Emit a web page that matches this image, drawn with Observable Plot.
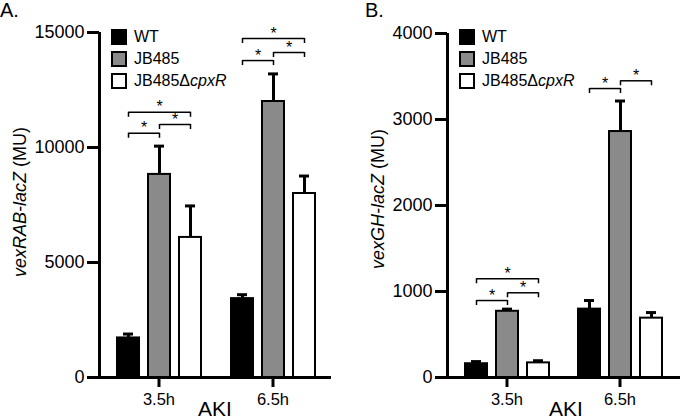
<!DOCTYPE html>
<html>
<head>
<meta charset="utf-8">
<script src="https://cdn.jsdelivr.net/npm/d3@7"></script>
<script src="https://cdn.jsdelivr.net/npm/@observablehq/plot@0.6"></script>
<style>
  html, body { margin: 0; padding: 0; background: #fff; }
  body { font-family: "Liberation Sans", Arial, Helvetica, sans-serif; color: #000; }
  #fig { position: relative; width: 680px; height: 420px; overflow: hidden; background: #fff; }
  .panel { position: absolute; top: 0; width: 340px; height: 420px; }
  .panel svg { position: absolute; left: 0; top: 0; }
  .plabel { position: absolute; top: 0; font-size: 20px; line-height: 20px; }
  .ylab { position: absolute; font-size: 18px; line-height: 18px; white-space: nowrap;
          transform: translate(-50%, -50%) rotate(-90deg); }
  .xlab { position: absolute; font-size: 21px; line-height: 21px; white-space: nowrap;
          transform: translateX(-50%); }
  .legend { position: absolute; top: 29px; }
  .legrow { display: flex; align-items: center; height: 16px; margin-bottom: 6px; font-size: 16px; white-space: nowrap; }
  .sw { width: 16px; height: 16px; box-sizing: border-box; border: 2px solid #000; margin-right: 7px; }
</style>
</head>
<body>
<div id="fig"></div>
<script>
// ---------- data ----------
const times = ["3.5h", "6.5h"];
const strains = ["WT", "JB485", "JB485ΔcpxR"];
const fills = ["#000000", "#8a8a8a", "#ffffff"];
const xTitle = "AKI";

// Panel A: vexRAB-lacZ (MU)
const vexRAB_WT = [1720, 3430];
const vexRAB_WT_sd = [170, 170];
const vexRAB_JB485 = [8830, 12000];
const vexRAB_JB485_sd = [1230, 1200];
const vexRAB_dcpxR = [6090, 8000];
const vexRAB_dcpxR_sd = [1370, 760];
const vexRAB_ticks = [0, 5000, 10000, 15000];
const vexRAB_sigTime = ["3.5h", "3.5h", "3.5h", "6.5h", "6.5h", "6.5h"];
const vexRAB_sigFrom = ["WT", "WT", "JB485", "WT", "WT", "JB485"];
const vexRAB_sigTo = ["JB485ΔcpxR", "JB485", "JB485ΔcpxR", "JB485ΔcpxR", "JB485", "JB485ΔcpxR"];
const vexRAB_sigLevel = [11530, 10620, 11000, 14740, 13780, 14130];

// Panel B: vexGH-lacZ (MU)
const vexGH_WT = [160, 795];
const vexGH_WT_sd = [25, 100];
const vexGH_JB485 = [770, 2860];
const vexGH_JB485_sd = [25, 355];
const vexGH_dcpxR = [170, 690];
const vexGH_dcpxR_sd = [25, 65];
const vexGH_ticks = [0, 1000, 2000, 3000, 4000];
const vexGH_sigTime = ["3.5h", "3.5h", "3.5h", "6.5h", "6.5h"];
const vexGH_sigFrom = ["WT", "WT", "JB485", "WT", "JB485"];
const vexGH_sigTo = ["JB485ΔcpxR", "JB485", "JB485ΔcpxR", "JB485", "JB485ΔcpxR"];
const vexGH_sigLevel = [1148, 895, 985, 3360, 3450];

// ---------- drawing ----------
const FONT = '"Liberation Sans", Arial, Helvetica, sans-serif';
const fig = document.getElementById("fig");

function legendHTML(s) {
  const k = s.indexOf("Δ");
  return k < 0 ? s : s.slice(0, k + 1) + "<i>" + s.slice(k + 1) + "</i>";
}

function makePanel(cfg) {
  const panel = document.createElement("div");
  panel.className = "panel";
  panel.style.left = cfg.left + "px";
  fig.appendChild(panel);

  const series = [cfg.wt, cfg.jb, cfg.dc];
  const sds = [cfg.wtSd, cfg.jbSd, cfg.dcSd];
  const rows = [];
  times.forEach((t, i) => strains.forEach((s, j) =>
    rows.push({time: t, strain: s, value: series[j][i], sd: sds[j][i]})));
  const sig = cfg.sigTime.map((t, i) => {
    const a = strains.indexOf(cfg.sigFrom[i]), b = strains.indexOf(cfg.sigTo[i]);
    return {time: t, from: cfg.sigFrom[i], to: cfg.sigTo[i], level: cfg.sigLevel[i],
            span: b - a, mid: strains[(a + b) / 2]};
  });
  const ymax = cfg.ticks[cfg.ticks.length - 1];
  const common = {
    width: 340, height: 420,
    marginTop: cfg.marginTop, marginBottom: 43,
    marginLeft: cfg.marginLeft, marginRight: cfg.marginRight,
    style: {background: "transparent", fontFamily: FONT, fontSize: "16px", color: "#000", overflow: "visible"}
  };

  const bars = Plot.plot({
    ...common,
    fx: {domain: times, paddingInner: cfg.pi, paddingOuter: cfg.po, label: null, axis: null},
    x: {domain: strains, paddingInner: 0.3, paddingOuter: 0.3, axis: null},
    y: {domain: [0, ymax], axis: null},
    color: {domain: strains, range: fills},
    marks: [
      Plot.ruleX(rows, {fx: "time", x: "strain", y1: "value", y2: d => d.value + d.sd, stroke: "#000", strokeWidth: 3}),
      Plot.tickY(rows, {fx: "time", x: "strain", y: d => d.value + d.sd, stroke: "#000", strokeWidth: 3, insetLeft: 6, insetRight: 6}),
      Plot.barY(rows, {fx: "time", x: "strain", y: "value", fill: "strain", stroke: "#000", strokeWidth: 2}),
      Plot.link(sig, {fx: "time", x1: "from", x2: "to", y1: "level", y2: "level", stroke: "#000", strokeWidth: 1.5}),
      Plot.ruleX(sig, {fx: "time", x: "from", y1: "level", y2: "level", insetTop: 5, stroke: "#000", strokeWidth: 1.5}),
      Plot.ruleX(sig, {fx: "time", x: "to", y1: "level", y2: "level", insetTop: 5, stroke: "#000", strokeWidth: 1.5}),
      Plot.text(sig.filter(d => d.span === 2), {fx: "time", x: "mid", y: "level", text: () => "*", dy: -5, fontSize: 16}),
      Plot.text(sig.filter(d => d.span === 1), {fx: "time", x: "from", y: "level", text: () => "*", dy: -5, dx: 15.7, fontSize: 16}),
      Plot.axisFx({anchor: "bottom", tickSize: 10, tickPadding: 6, strokeWidth: 3, fontSize: 16.5, label: null})
    ]
  });
  panel.appendChild(bars);

  const axes = Plot.plot({
    ...common,
    x: {domain: [0, 1], axis: null},
    y: {domain: [0, ymax], axis: null},
    marks: [
      Plot.ruleY([0], {insetLeft: -cfg.xLineExtend, stroke: "#000", strokeWidth: 3}),
      Plot.ruleX([0], {y1: 0, y2: ymax, stroke: "#000", strokeWidth: 3}),
      Plot.axisY(cfg.ticks, {tickSize: 12, tickPadding: 3, strokeWidth: 3, fontSize: 18, label: null, tickFormat: d => String(d)})
    ]
  });
  panel.appendChild(axes);

  const pl = document.createElement("div");
  pl.className = "plabel";
  pl.style.left = cfg.labelX + "px";
  pl.textContent = cfg.label;
  panel.appendChild(pl);

  const yl = document.createElement("div");
  yl.className = "ylab";
  yl.style.left = cfg.ylabX + "px";
  yl.style.top = cfg.ylabY + "px";
  yl.innerHTML = "<i>" + cfg.yItalic + "</i> (MU)";
  panel.appendChild(yl);

  const xl = document.createElement("div");
  xl.className = "xlab";
  xl.style.left = cfg.xlabX + "px";
  xl.style.top = "398px";
  xl.textContent = xTitle;
  panel.appendChild(xl);

  const lg = document.createElement("div");
  lg.className = "legend";
  lg.style.left = cfg.legendX + "px";
  strains.forEach((s, j) => {
    const r = document.createElement("div");
    r.className = "legrow";
    r.innerHTML = '<div class="sw" style="background:' + fills[j] + '"></div><span>' + legendHTML(s) + "</span>";
    lg.appendChild(r);
  });
  panel.appendChild(lg);
}

makePanel({
  left: 0, label: "A.", labelX: 0,
  marginTop: 32, marginLeft: 99, marginRight: 9, pi: 0.098, po: 0.058, xLineExtend: 9,
  wt: vexRAB_WT, wtSd: vexRAB_WT_sd, jb: vexRAB_JB485, jbSd: vexRAB_JB485_sd, dc: vexRAB_dcpxR, dcSd: vexRAB_dcpxR_sd,
  ticks: vexRAB_ticks, sigTime: vexRAB_sigTime, sigFrom: vexRAB_sigFrom, sigTo: vexRAB_sigTo, sigLevel: vexRAB_sigLevel,
  yItalic: "vexRAB-lacZ", ylabX: 20, ylabY: 202, xlabX: 215, legendX: 111
});
makePanel({
  left: 340, label: "B.", labelX: 25,
  marginTop: 33, marginLeft: 107, marginRight: 0, pi: 0.088, po: 0.066, xLineExtend: 10,
  wt: vexGH_WT, wtSd: vexGH_WT_sd, jb: vexGH_JB485, jbSd: vexGH_JB485_sd, dc: vexGH_dcpxR, dcSd: vexGH_dcpxR_sd,
  ticks: vexGH_ticks, sigTime: vexGH_sigTime, sigFrom: vexGH_sigFrom, sigTo: vexGH_sigTo, sigLevel: vexGH_sigLevel,
  yItalic: "vexGH-lacZ", ylabX: 38, ylabY: 199, xlabX: 226, legendX: 119
});
</script>
</body>
</html>
